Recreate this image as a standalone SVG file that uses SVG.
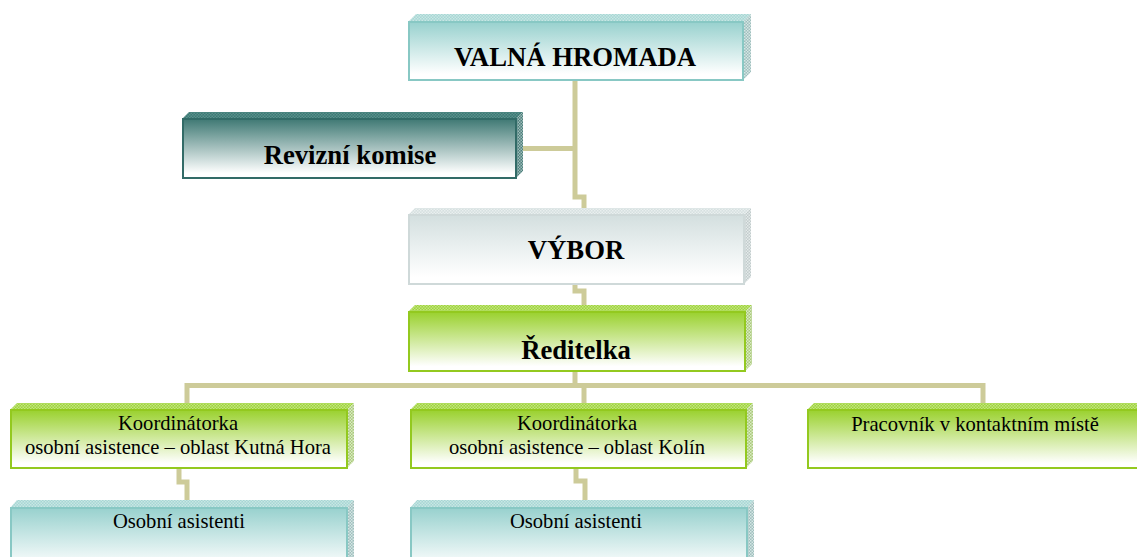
<svg xmlns="http://www.w3.org/2000/svg" width="1137" height="557" viewBox="0 0 1137 557">
<defs>
<linearGradient id="gTeal" x1="0" y1="0" x2="0" y2="1"><stop offset="0" stop-color="#98d1ce"/><stop offset="0.9" stop-color="#ffffff"/></linearGradient>
<linearGradient id="gDark" x1="0" y1="0" x2="0" y2="1"><stop offset="0" stop-color="#3f7974"/><stop offset="0.92" stop-color="#ffffff"/></linearGradient>
<linearGradient id="gGray" x1="0" y1="0" x2="0" y2="1"><stop offset="0" stop-color="#d3dfdf"/><stop offset="0.9" stop-color="#ffffff"/></linearGradient>
<linearGradient id="gGreen" x1="0" y1="0" x2="0" y2="1"><stop offset="0" stop-color="#9ad12e"/><stop offset="0.92" stop-color="#ffffff"/></linearGradient>
<pattern id="pTeal" width="3" height="3" patternUnits="userSpaceOnUse"><rect width="3" height="3" fill="#a6d7d4"/><rect width="1.5" height="1.5" fill="#c9e6e4"/><rect x="1.5" y="1.5" width="1.5" height="1.5" fill="#c9e6e4"/></pattern>
<pattern id="pTealS" width="3" height="3" patternUnits="userSpaceOnUse"><rect width="3" height="3" fill="#9fbfbd"/><rect width="1.5" height="1.5" fill="#d6e6e5"/><rect x="1.5" y="1.5" width="1.5" height="1.5" fill="#d6e6e5"/></pattern>
<pattern id="pDark" width="3" height="3" patternUnits="userSpaceOnUse"><rect width="3" height="3" fill="#3b7a75"/><rect width="1.5" height="1.5" fill="#5b8f8b"/><rect x="1.5" y="1.5" width="1.5" height="1.5" fill="#5b8f8b"/></pattern>
<pattern id="pDarkS" width="3" height="3" patternUnits="userSpaceOnUse"><rect width="3" height="3" fill="#4d7f7b"/><rect width="1.5" height="1.5" fill="#9fbcba"/><rect x="1.5" y="1.5" width="1.5" height="1.5" fill="#9fbcba"/></pattern>
<pattern id="pGray" width="3" height="3" patternUnits="userSpaceOnUse"><rect width="3" height="3" fill="#d6e0e0"/><rect width="1.5" height="1.5" fill="#e9efef"/><rect x="1.5" y="1.5" width="1.5" height="1.5" fill="#e9efef"/></pattern>
<pattern id="pGrayS" width="3" height="3" patternUnits="userSpaceOnUse"><rect width="3" height="3" fill="#c2cccc"/><rect width="1.5" height="1.5" fill="#e4eaea"/><rect x="1.5" y="1.5" width="1.5" height="1.5" fill="#e4eaea"/></pattern>
<pattern id="pGreen" width="3" height="3" patternUnits="userSpaceOnUse"><rect width="3" height="3" fill="#9fd43c"/><rect width="1.5" height="1.5" fill="#c2e47f"/><rect x="1.5" y="1.5" width="1.5" height="1.5" fill="#c2e47f"/></pattern>
<pattern id="pGreenS" width="3" height="3" patternUnits="userSpaceOnUse"><rect width="3" height="3" fill="#a9c97a"/><rect width="1.5" height="1.5" fill="#dcebc5"/><rect x="1.5" y="1.5" width="1.5" height="1.5" fill="#dcebc5"/></pattern>
</defs>
<style>
.conn{fill:none;stroke:#cdcb99;stroke-width:5;stroke-linejoin:miter}
.teal .front{fill:url(#gTeal);stroke:#88c8c4;stroke-width:2}
.teal .top{fill:url(#pTeal)}
.teal .side{fill:url(#pTealS)}
.dark .front{fill:url(#gDark);stroke:#326b67;stroke-width:2}
.dark .top{fill:url(#pDark)}
.dark .side{fill:url(#pDarkS)}
.gray .front{fill:url(#gGray);stroke:#cfd9d9;stroke-width:2}
.gray .top{fill:url(#pGray)}
.gray .side{fill:url(#pGrayS)}
.green .front{fill:url(#gGreen);stroke:#93c91f;stroke-width:2}
.green .top{fill:url(#pGreen)}
.green .side{fill:url(#pGreenS)}
.tb{font-family:"Liberation Serif","Times New Roman",serif;font-weight:bold;font-size:26.7px;fill:#000;text-anchor:middle}
.tr{font-family:"Liberation Serif","Times New Roman",serif;font-size:20.6px;fill:#000;text-anchor:middle}
</style>
<rect width="1137" height="557" fill="#ffffff"/>
<g id="connectors">
<path class="conn" d="M575 80 V197 H584 V208"/>
<path class="conn" d="M523 148.5 H575"/>
<path class="conn" d="M575 283 V291 H584 V305"/>
<path class="conn" d="M575 370 V385.5"/>
<path class="conn" d="M187 403 V385.5 H983 V403"/>
<path class="conn" d="M584 385.5 V403"/>
<path class="conn" d="M179 468 V482 H187 V500"/>
<path class="conn" d="M576 468 V481 H585 V500"/>
</g>
<g id="valna-hromada" class="teal">
<polygon class="top" points="408,22 416,14 751,14 743,22"/>
<polygon class="side" points="743,22 751,14 751,72 743,80"/>
<rect class="front" x="409" y="22" width="334" height="58"/>
<text class="tb" x="575" y="66">VALNÁ HROMADA</text>
</g>
<g id="revizni-komise" class="dark">
<polygon class="top" points="182,119 189,112 523,112 516,119"/>
<polygon class="side" points="516,119 523,112 523,171 516,178"/>
<rect class="front" x="183" y="119" width="333" height="59"/>
<text class="tb" x="350" y="164">Revizní komise</text>
</g>
<g id="vybor" class="gray">
<polygon class="top" points="408,215 415,208 751,208 744,215"/>
<polygon class="side" points="744,215 751,208 751,277 744,284"/>
<rect class="front" x="409" y="215" width="335" height="69"/>
<text class="tb" x="576" y="259">VÝBOR</text>
</g>
<g id="reditelka" class="green">
<polygon class="top" points="408,312 415,305 752,305 745,312"/>
<polygon class="side" points="745,312 752,305 752,364 745,371"/>
<rect class="front" x="409" y="312" width="336" height="59"/>
<text class="tb" x="576" y="359">Ředitelka</text>
</g>
<g id="koordinatorka-kh" class="green">
<polygon class="top" points="10,410 17,403 354,403 347,410"/>
<polygon class="side" points="347,410 354,403 354,461 347,468"/>
<rect class="front" x="11" y="410" width="336" height="58"/>
<text class="tr" x="178" y="430">Koordinátorka</text>
<text class="tr" x="178" y="454">osobní asistence – oblast Kutná Hora</text>
</g>
<g id="koordinatorka-kolin" class="green">
<polygon class="top" points="410,410 417,403 753,403 746,410"/>
<polygon class="side" points="746,410 753,403 753,461 746,468"/>
<rect class="front" x="411" y="410" width="335" height="58"/>
<text class="tr" x="577" y="430">Koordinátorka</text>
<text class="tr" x="577" y="454">osobní asistence – oblast Kolín</text>
</g>
<g id="pracovnik" class="green">
<polygon class="top" points="807,410 814,403 1151,403 1144,410"/>
<rect class="front" x="808" y="410" width="336" height="58"/>
<text class="tr" x="975" y="431">Pracovník v kontaktním místě</text>
</g>
<g id="asistenti-kh" class="teal">
<polygon class="top" points="10,508 17,500 354,500 347,508"/>
<polygon class="side" points="347,508 354,500 354,566 347,574"/>
<rect class="front" x="11" y="508" width="336" height="66"/>
<text class="tr" x="179" y="528">Osobní asistenti</text>
</g>
<g id="asistenti-kolin" class="teal">
<polygon class="top" points="410,508 417,500 754,500 747,508"/>
<polygon class="side" points="747,508 754,500 754,566 747,574"/>
<rect class="front" x="411" y="508" width="336" height="66"/>
<text class="tr" x="576" y="528">Osobní asistenti</text>
</g>
</svg>
